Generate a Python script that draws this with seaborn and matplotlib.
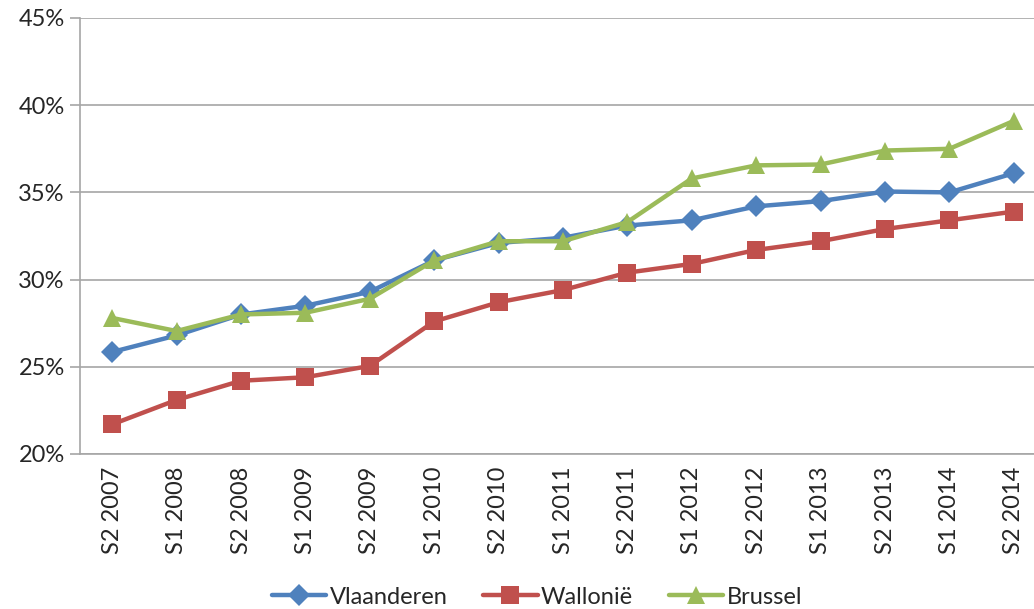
import numpy as np
import pandas as pd
import seaborn as sns
import matplotlib.pyplot as plt
from matplotlib.ticker import PercentFormatter, FixedLocator

periods = ["S2 2007", "S1 2008", "S2 2008", "S1 2009", "S2 2009", "S1 2010",
           "S2 2010", "S1 2011", "S2 2011", "S1 2012", "S2 2012", "S1 2013",
           "S2 2013", "S1 2014", "S2 2014"]
vlaanderen = [25.85, 26.8, 28.0, 28.5, 29.3, 31.1, 32.1, 32.4, 33.1, 33.4,
              34.2, 34.5, 35.05, 35.0, 36.1]
wallonie = [21.7, 23.1, 24.2, 24.4, 25.05, 27.6, 28.7, 29.4, 30.4, 30.9,
            31.7, 32.2, 32.9, 33.4, 33.9]
brussel = [27.8, 27.05, 28.0, 28.1, 28.9, 31.1, 32.2, 32.2, 33.3, 35.8,
           36.55, 36.6, 37.4, 37.5, 39.1]
regions = ["Vlaanderen", "Wallonië", "Brussel"]

df = pd.DataFrame({
    "period": periods * 3,
    "value": vlaanderen + wallonie + brussel,
    "region": np.repeat(regions, len(periods)),
})

sns.set_style("white")
plt.rcParams['font.family'] = ['Lato', 'DejaVu Sans']

fig = plt.figure(figsize=(10.34, 6.09), dpi=100)
ax = fig.add_axes([80 / 1034, 1 - 454 / 609, 966 / 1034, 436 / 609])

colors = {"Vlaanderen": "#4F81BD", "Wallonië": "#C0504D", "Brussel": "#9BBB59"}
markers = {"Vlaanderen": "D", "Wallonië": "s", "Brussel": "^"}
sizes = {"Vlaanderen": 11, "Wallonië": 13, "Brussel": 13}

for r in regions:
    sns.lineplot(data=df[df.region == r], x="period", y="value", ax=ax,
                 color=colors[r], marker=markers[r], markersize=sizes[r],
                 markeredgewidth=0, linewidth=3.2, label=r, sort=False)

ax.set_xlim(-0.5, 14.5)
ax.set_ylim(20, 45)
ax.set_yticks(np.arange(20, 46, 5))
ax.yaxis.set_major_formatter(PercentFormatter(decimals=0))
ax.yaxis.grid(True, color="#A6A6A6", linewidth=1.2)
ax.set_axisbelow(True)

ax.set_xticks(range(len(periods)))
ax.set_xticklabels(periods, rotation=90)
ax.xaxis.set_minor_locator(FixedLocator(np.arange(-0.5, 15, 1)))
ax.tick_params(axis="x", which="major", length=0, pad=9, labelsize=17)
ax.tick_params(axis="x", which="minor", length=7, width=1.2, color="#A6A6A6")
ax.tick_params(axis="y", length=7, width=1.2, color="#A6A6A6", labelsize=17, pad=4, left=True)

for s in ["top", "right"]:
    ax.spines[s].set_visible(False)
for s in ["left", "bottom"]:
    ax.spines[s].set_color("#A6A6A6")
    ax.spines[s].set_linewidth(1.2)

ax.set_xlabel("")
ax.set_ylabel("")
ax.legend(loc="center", bbox_to_anchor=(537 / 1034, 1 - 597 / 609),
          bbox_transform=fig.transFigure, ncol=3, frameon=False,
          fontsize=17, handlelength=2.3, handletextpad=0.15, columnspacing=1.5,
          borderaxespad=0)

fig.savefig("out.png", dpi=100)
